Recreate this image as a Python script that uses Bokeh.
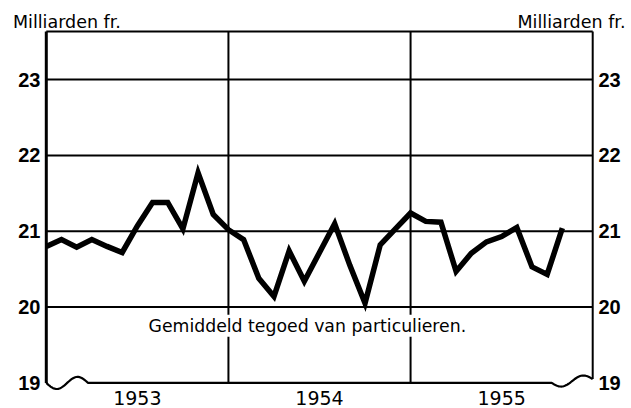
import numpy as np
from bokeh.plotting import figure
from bokeh.models import Range1d, LinearAxis, FixedTicker, Label
from bokeh.embed import file_html
from bokeh.resources import INLINE

# Monthly average balances of private persons, Jan 1953 .. Nov 1955 (milliards fr.)
months = list(range(35))
values = [20.80, 20.89, 20.79, 20.89, 20.80, 20.72, 21.07, 21.38, 21.38, 21.03, 21.77, 21.22,
          21.02, 20.89, 20.38, 20.14, 20.74, 20.34, 20.72, 21.10, 20.55, 20.05, 20.82, 21.03,
          21.24, 21.13, 21.12, 20.47, 20.71, 20.86, 20.93, 21.05, 20.53, 20.43, 21.04]
years = ["1953", "1954", "1955"]
year_centers = [6, 18, 30]
year_bounds = [12, 24]
y_ticks = [19, 20, 21, 22, 23]
grid_levels = [20, 21, 22, 23]
unit_label = "Milliarden fr."
unit_label_pos = [1.36, 34.6]
caption = "Gemiddeld tegoed van particulieren."

X0, X1 = 0, 36
Y0, YTOP = 19, 23.634

p = figure(width=631, height=408, output_backend="svg", toolbar_location=None,
           x_range=Range1d(-0.25, 36.25), y_range=Range1d(18.9, 23.66),
           x_axis_location=None, y_axis_location=None,
           min_border_left=42, min_border_right=35, min_border_top=29, min_border_bottom=18)
p.outline_line_color = None
p.background_fill_color = "white"
p.border_fill_color = "white"
p.xgrid.visible = False
p.ygrid.visible = False


def style_axis(ax, size, bold=False, standoff=2):
    ax.axis_line_color = None
    ax.major_tick_line_color = None
    ax.minor_tick_line_color = None
    ax.major_tick_out = 0
    ax.major_tick_in = 0
    ax.minor_tick_out = 0
    ax.major_label_standoff = standoff
    ax.major_label_text_font = "Liberation Sans" if bold else "DejaVu Sans"
    ax.major_label_text_font_style = "bold" if bold else "normal"
    ax.major_label_text_font_size = size
    ax.major_label_text_color = "black"


for loc in ("left", "right"):
    ax = LinearAxis(ticker=FixedTicker(ticks=y_ticks))
    style_axis(ax, "20px", bold=True, standoff=2)
    p.add_layout(ax, loc)

xb = LinearAxis(ticker=FixedTicker(ticks=year_centers),
                major_label_overrides={c: y for c, y in zip(year_centers, years)})
style_axis(xb, "19px", standoff=0)
p.add_layout(xb, "below")

xa = LinearAxis(ticker=FixedTicker(ticks=unit_label_pos),
                major_label_overrides={c: unit_label for c in unit_label_pos})
style_axis(xa, "17.5px", standoff=-2)
p.add_layout(xa, "above")

# horizontal grid lines
p.segment(x0=[X0] * len(grid_levels), x1=[X1] * len(grid_levels),
          y0=grid_levels, y1=grid_levels, line_color="black", line_width=2)
# year boundaries
p.segment(x0=year_bounds, x1=year_bounds, y0=[Y0] * len(year_bounds),
          y1=[YTOP] * len(year_bounds), line_color="black", line_width=2)
# frame
p.segment(x0=[X0], x1=[X0], y0=[Y0], y1=[YTOP], line_color="black", line_width=3)
p.segment(x0=[X1], x1=[X1], y0=[Y0 + 0.05], y1=[YTOP], line_color="black", line_width=2)
p.segment(x0=[X0], x1=[X1], y0=[YTOP], y1=[YTOP], line_color="black", line_width=2)

# bottom baseline with axis-break waves
t = np.linspace(0, 1, 40)
wl_x = list(2.75 * t)
wl_y = list(Y0 - 0.08 * np.sin(2 * np.pi * t))
wr_x = list(33.3 + 2.7 * t)
wr_y = list(Y0 - 0.06 * np.sin(2 * np.pi * t) + 0.05 * t)
base_x = wl_x + [33.3] + wr_x
base_y = wl_y + [Y0] + wr_y
p.line(base_x, base_y, line_color="black", line_width=2.2)

# data line
p.line(months, values, line_color="black", line_width=5.5, line_join="miter")

p.add_layout(Label(x=17.2, y=19.755, text=caption, text_align="center",
                   text_baseline="alphabetic", text_font="DejaVu Sans",
                   text_font_size="17.3px", text_color="black",
                   background_fill_color="white", padding=1))

open("out.html", "w").write(file_html(p, INLINE))
